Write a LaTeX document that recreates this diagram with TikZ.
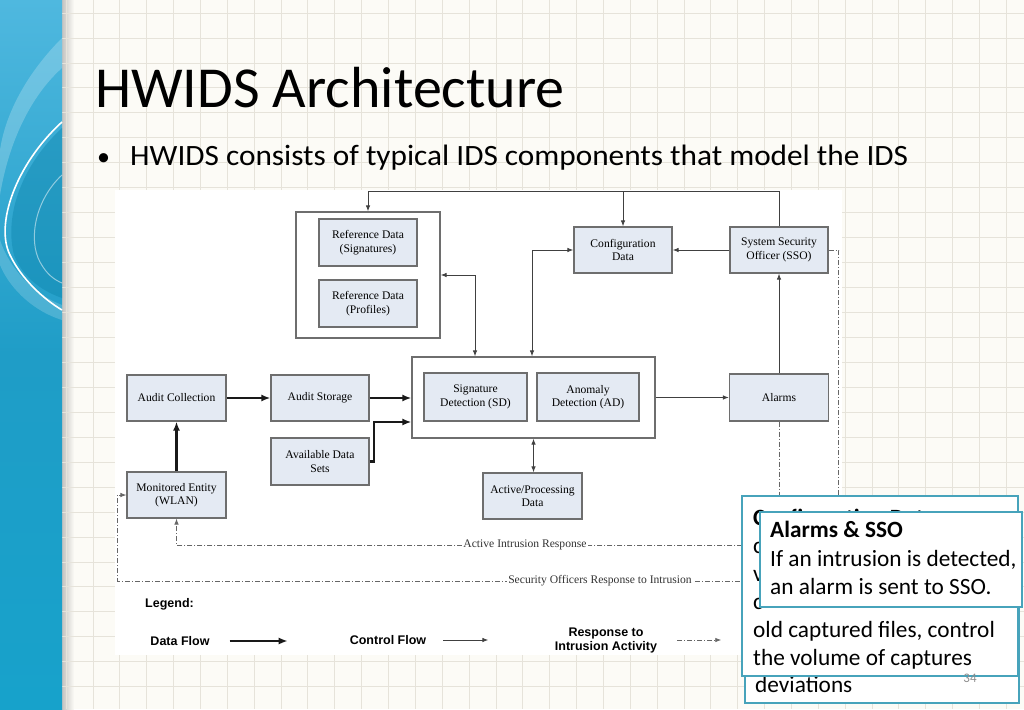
\documentclass[tikz,border=0pt]{standalone}
\usepackage{fontspec}
\setmainfont{Carlito}
\newfontfamily\bulfont[FakeStretch=1.06]{Carlito}
\newfontfamily\dgm{Liberation Serif}
\newfontfamily\lgd{Liberation Sans}
\usetikzlibrary{arrows.meta}
\definecolor{slidebg}{HTML}{FCFBF6}
\definecolor{gridc}{HTML}{E6E3DA}
\definecolor{boxfill}{HTML}{E4EAF3}
\definecolor{boxdraw}{HTML}{6E6E6E}
\definecolor{callb}{HTML}{47A3BB}
\definecolor{panelTop}{HTML}{4FB8DF}
\definecolor{panelMid}{HTML}{1F9DC7}
\definecolor{panelBot}{HTML}{17A2CB}
\definecolor{panelDark}{HTML}{0E86AE}
\begin{document}
\begin{tikzpicture}[x=1pt,y=-1pt,
  dbox/.style={draw=boxdraw, fill=boxfill, line width=1.2pt, align=center,
    font=\dgm\fontsize{11.6}{13.5}\selectfont, inner sep=0pt},
  cont/.style={draw=boxdraw, fill=white, line width=1.2pt, inner sep=0pt},
  dflow/.style={line width=2.2pt, draw=black!90, -{Latex[length=9pt,width=7pt]}},
  cflow/.style={line width=0.9pt, draw=black!75, -{Latex[length=6pt,width=4.5pt]}},
  cboth/.style={line width=0.9pt, draw=black!75, {Latex[length=6pt,width=4.5pt]}-{Latex[length=6pt,width=4.5pt]}},
  rflow/.style={line width=0.8pt, draw=black!60, dash pattern=on 5pt off 2pt on 1pt off 2pt},
  rlabel/.style={fill=white, inner sep=1.5pt, font=\dgm\fontsize{11.6}{13}\selectfont, text=black!80},
  lgtext/.style={font=\lgd\bfseries\fontsize{12.5}{14}\selectfont, align=center, inner sep=0pt},
  ctext/.style={anchor=base west, inner sep=0pt, font=\fontsize{23.3}{28}\selectfont},
  callbox/.style={draw=callb, line width=2.4pt, fill=white}
]
\useasboundingbox (0,0) rectangle (1024,709);
% slide background
\fill[slidebg] (0,0) rectangle (1024,709);
\shade[left color=gray!45!slidebg, right color=slidebg] (62,0) rectangle (74,709);
\foreach \i in {-1,...,35} \draw[gridc, line width=0.8pt] ({93+26.86*\i},0) -- ({93+26.86*\i},709);
\foreach \j in {0,...,28} \draw[gridc, line width=0.8pt] (62,{13+24.95*\j}) -- (1024,{13+24.95*\j});
% left blue panel
\shade[top color=panelTop, bottom color=panelBot, middle color=panelMid] (0,0) rectangle (62,709);
\fill[panelDark, opacity=0.45] (62,128) .. controls (22,165) and (4,215) .. (14,255) .. controls (24,280) and (45,292) .. (62,298) -- cycle;
\fill[white, opacity=0.22] (62,38) .. controls (30,70) and (6,110) .. (0,150) -- (0,195) .. controls (10,135) and (35,92) .. (62,68) -- cycle;
\fill[white, opacity=0.18] (0,240) .. controls (10,270) and (35,295) .. (62,305) -- (62,320) .. controls (30,310) and (8,285) .. (0,265) -- cycle;
\draw[white, line width=1.6pt] (62,122) .. controls (15,165) and (-5,225) .. (10,255) .. controls (22,280) and (45,300) .. (62,310);
\draw[white, opacity=0.5, line width=1pt] (62,175) .. controls (35,200) and (28,240) .. (40,262) .. controls (47,275) and (55,280) .. (62,283);
% title and bullet
\node[anchor=base west, inner sep=0pt, font=\fontsize{58}{60}\selectfont] (title) at (95,107) {HWIDS Architecture};
\node[anchor=base west, inner sep=0pt, font=\fontsize{26}{32}\selectfont] (bul) at (97,165) {•};
\node[anchor=base west, inner sep=0pt, font=\bulfont\fontsize{29.5}{32}\selectfont] (btext) at (130,165) {HWIDS consists of typical IDS components that model the IDS};
% diagram background
\fill[white] (115,190) rectangle (842,655);
% containers
\node[cont, minimum width=144pt, minimum height=126pt] (refc) at (368,275) {};
\node[cont, minimum width=243pt, minimum height=81pt] (det) at (533.5,397.5) {};
% boxes
\node[dbox, minimum width=98pt, minimum height=47pt] (rsig) at (368,242.5) {Reference Data\\(Signatures)};
\node[dbox, minimum width=98pt, minimum height=47pt] (rprof) at (368,303.5) {Reference Data\\(Profiles)};
\node[dbox, minimum width=98pt, minimum height=46pt] (conf) at (623,250) {Configuration\\Data};
\node[dbox, minimum width=98pt, minimum height=46pt] (sso) at (779,250) {System Security\\Officer (SSO)};
\node[dbox, minimum width=103pt, minimum height=48pt] (sd) at (475.5,397) {Signature\\Detection (SD)};
\node[dbox, minimum width=102pt, minimum height=48pt] (ad) at (588,397) {Anomaly\\Detection (AD)};
\node[dbox, minimum width=99pt, minimum height=47pt] (alarms) at (779,397.5) {Alarms};
\node[dbox, minimum width=99pt, minimum height=46pt] (ac) at (176.5,398) {Audit Collection};
\node[dbox, minimum width=98pt, minimum height=46pt] (as) at (320,398) {Audit Storage};
\node[dbox, minimum width=98pt, minimum height=47pt] (avail) at (320,461.5) {Available Data\\Sets};
\node[dbox, minimum width=99pt, minimum height=46pt] (mon) at (176.5,495) {Monitored Entity\\(WLAN)};
\node[dbox, minimum width=99pt, minimum height=46pt] (act) at (532.5,496) {Active/Processing\\Data};
% data flows
\draw[dflow] (mon) -- (ac);
\draw[dflow] (ac) -- (as);
\draw[dflow] (as.east) -- (as.east -| det.west);
\draw[dflow] (avail.east) -- ++(4,0) |- ([yshift=-24.5pt]det.west);
% control flows
\draw[cflow] (det.east) -- (alarms.west);
\draw[cflow] (alarms.north) -- (sso.south);
\draw[cflow] (sso.west) -- (conf.east);
\draw[cflow] (sso.north) -- ++(0,-35) -| (refc.north);
\draw[cflow] (conf.north |- 0,192) -- (conf.north);
\draw[cboth] (refc.east) -| ([xshift=-58.5pt]det.north);
\draw[cboth] ([xshift=-1.5pt]det.north) |- (conf.west);
\draw[cboth] (det.south) -- (det.south |- act.north);
% response to intrusion
\draw[rflow, -{Latex[length=6pt,width=4.5pt]}] (alarms.south) -- (alarms.south |- 0,545) -| (mon.south);
\node[rlabel] (lblA) at (525,545) {Active Intrusion Response};
\draw[rflow, -{Latex[length=6pt,width=4.5pt]}] (sso.east) -- ++(10,0) -- ++(0,331) -| ([xshift=-9pt]mon.west) -- (mon.west);
\node[rlabel] (lblS) at (600,581) {Security Officers Response to Intrusion};
% legend
\node[lgtext, anchor=west] (lg) at (145,604) {Legend:};
\node[lgtext] (ldf) at (180,641) {Data Flow};
\draw[dflow] ([xshift=20pt]ldf.east) -- ++(58,0);
\node[lgtext] (lcf) at (388,640) {Control Flow};
\draw[cflow] ([xshift=17pt]lcf.east) -- ++(45,0);
\node[lgtext] (lrf) at (606,640) {Response to\\Intrusion Activity};
\draw[rflow, -{Latex[length=6pt,width=4.5pt]}] ([xshift=20pt]lrf.east) -- ++(44,0);
% callouts
\draw[callbox] (745,600) rectangle (1019,703);
\node[ctext] (cbB) at (755,692) {deviations};
\draw[callbox] (742,496) rectangle (1018,676);
\node[ctext, font=\bfseries\fontsize{23.3}{28}\selectfont] (cA1) at (753,525) {Configuration Data};
\node[ctext] (cA2) at (753,553) {c};
\node[ctext] (cA3) at (753,581) {v};
\node[ctext] (cA4) at (753,609) {c};
\node[ctext] (cA5) at (753,637) {old captured files, control};
\node[ctext] (cA6) at (753,665) {the volume of captures};
\draw[callbox] (760,512) rectangle (1022,607);
\node[ctext, font=\bfseries\fontsize{23.3}{28}\selectfont] (cC1) at (770,537) {Alarms \& SSO};
\node[ctext] (cC2) at (770,566) {If an intrusion is detected,};
\node[ctext] (cC3) at (770,594) {an alarm is sent to SSO.};
\node[anchor=center, inner sep=0pt, text=black!45, font=\fontsize{13}{15}\selectfont] (pg) at (970,678) {34};
\end{tikzpicture}
\end{document}
